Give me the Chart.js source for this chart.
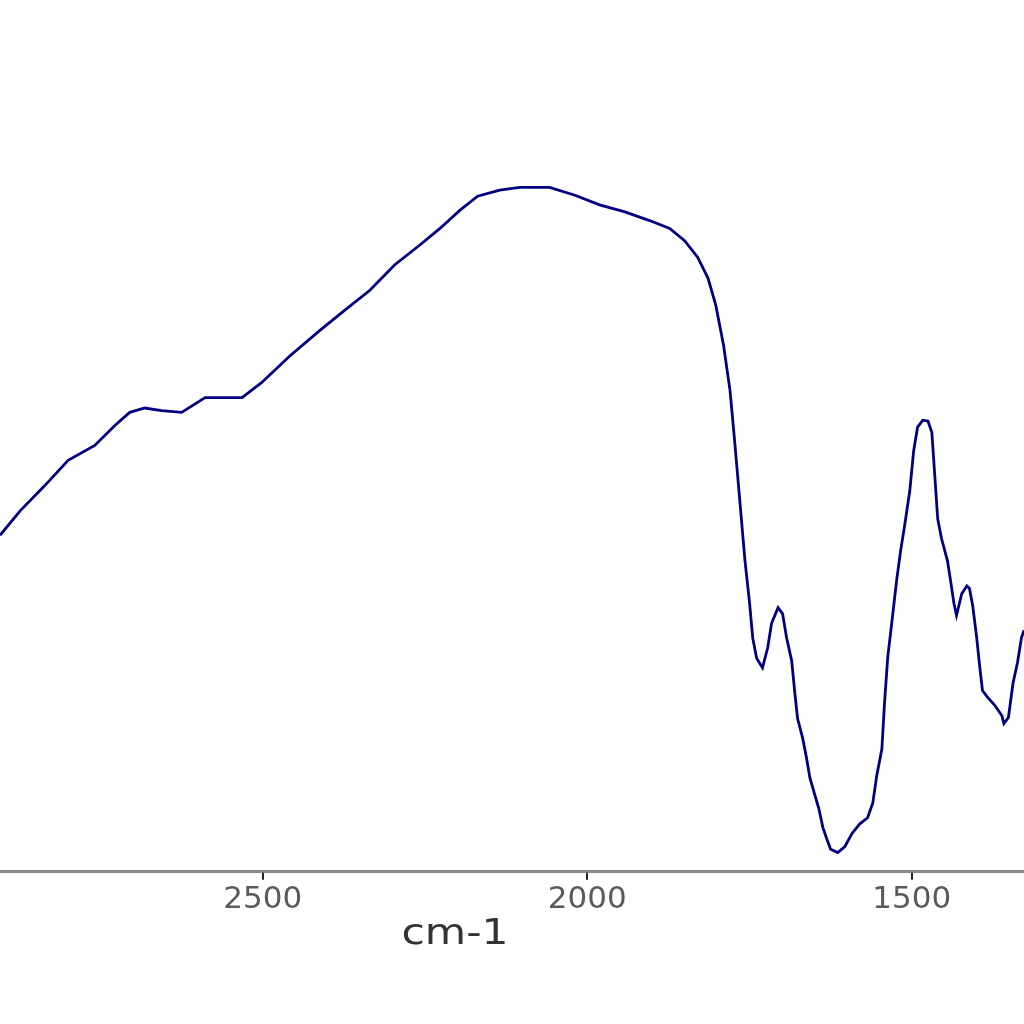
<!DOCTYPE html>
<html>
<head>
<meta charset="utf-8">
<script src="https://cdn.jsdelivr.net/npm/chart.js@4/dist/chart.umd.min.js"></script>
<style>
html,body{margin:0;padding:0;background:#fff;}
canvas{display:block;}
</style>
</head>
<body>
<canvas id="c" width="1024" height="1024"></canvas>
<script>
const wavenumbers = [2905,2874,2836,2800,2759,2728,2705,2682,2656,2625,2589,2532,2502,2458,2412,2374,2335,2297,2258,2227,2196,2169,2135,2104,2058,2019,1981,1942,1904,1873,1850,1830,1814,1802,1790,1780,1773,1765,1757,1750,1745,1739,1730,1722,1716,1706,1699,1693,1685,1680,1676,1668,1662,1657,1650,1643,1637,1631,1625,1614,1603,1592,1580,1568,1560,1554,1546,1542,1537,1529,1523,1517,1511,1503,1497,1491,1483,1475,1469,1465,1460,1454,1445,1441,1435,1431,1423,1415,1411,1406,1400,1395,1391,1383,1372,1361,1358,1351,1344,1337,1331,1327];
const transmittance = [38.6,41.4,44.3,47.2,48.9,51.2,52.7,53.2,52.9,52.7,54.4,54.4,56.1,59.2,62.1,64.4,66.7,69.6,71.9,73.8,75.9,77.5,78.2,78.5,78.5,77.6,76.5,75.7,74.7,73.8,72.4,70.5,68.1,65.0,60.4,55.2,49.5,42.6,35.7,30.9,26.8,24.5,23.4,25.7,28.5,30.3,29.6,26.9,24.2,20.4,17.6,15.3,13.0,10.8,9.0,7.2,5.1,3.8,2.6,2.2,2.9,4.4,5.5,6.2,7.9,11.0,14.1,19.3,24.6,29.7,33.6,36.9,39.7,43.7,48.3,51.0,51.8,51.7,50.4,46.0,40.5,38.2,35.7,33.8,30.8,29.4,31.9,32.8,32.5,30.5,26.9,23.4,20.8,20.0,19.1,17.9,17.0,17.7,21.6,24.0,26.8,27.7];
const tickValues = [2500, 2000, 1500];
const xTitle = "cm-1";

const points = wavenumbers.map((w, i) => ({x: w, y: transmittance[i]}));

const axisDecor = {
  id: 'axisDecor',
  afterDraw(chart) {
    const ctx = chart.ctx;
    const xs = chart.scales.x;
    const bottom = chart.chartArea.bottom;
    ctx.save();
    ctx.strokeStyle = '#222';
    ctx.lineWidth = 2;
    tickValues.forEach(v => {
      const px = Math.round(xs.getPixelForValue(v));
      ctx.beginPath();
      ctx.moveTo(px, bottom + 1);
      ctx.lineTo(px, bottom + 8);
      ctx.stroke();
    });
    ctx.font = '36px "DejaVu Sans"';
    ctx.fillStyle = '#333';
    ctx.textAlign = 'center';
    ctx.textBaseline = 'alphabetic';
    ctx.translate(455, 944);
    ctx.scale(1.18, 1);
    ctx.fillText(xTitle, 0, 0);
    ctx.restore();
  }
};

new Chart(document.getElementById('c'), {
  type: 'line',
  data: {
    datasets: [{
      data: points,
      borderColor: '#000080',
      borderWidth: 2.8,
      pointRadius: 0,
      tension: 0,
      fill: false
    }]
  },
  options: {
    responsive: false,
    animation: false,
    layout: {padding: {left: 0, right: 0, top: 0, bottom: 102}},
    plugins: {legend: {display: false}, tooltip: {enabled: false}},
    scales: {
      x: {
        type: 'linear',
        reverse: true,
        min: 1327,
        max: 2905,
        afterBuildTicks: (scale) => { scale.ticks = tickValues.map(v => ({value: v})); },
        ticks: {
          font: {family: 'DejaVu Sans', size: 31},
          color: '#5a5a5a',
          padding: 3,
          maxRotation: 0,
          autoSkip: false,
          callback: (v) => String(v)
        },
        grid: {
          drawOnChartArea: false,
          drawTicks: true,
          tickLength: 7,
          color: 'rgba(0,0,0,0)'
        },
        border: {color: '#8a8a8a', width: 3}
      },
      y: {
        display: false,
        min: 0,
        max: 100
      }
    }
  },
  plugins: [axisDecor]
});
</script>
</body>
</html>
